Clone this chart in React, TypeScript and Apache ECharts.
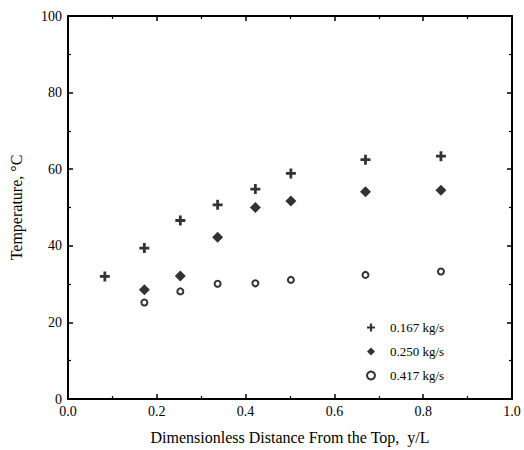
import React, { useEffect, useRef } from "react";
import * as echarts from "echarts";

const xPos = [0.083, 0.172, 0.253, 0.337, 0.422, 0.502, 0.67, 0.84];
const seriesNames = ["0.167 kg/s", "0.250 kg/s", "0.417 kg/s"];
const temp167 = [32.0, 39.4, 46.6, 50.7, 54.8, 58.9, 62.5, 63.4];
const temp250 = [null, 28.5, 32.1, 42.2, 50.0, 51.7, 54.1, 54.5];
const temp417 = [null, 25.2, 28.1, 30.1, 30.2, 31.1, 32.4, 33.3];
const xTicks = [0, 0.2, 0.4, 0.6, 0.8, 1.0];
const yTicks = [0, 20, 40, 60, 80, 100];

const FONT = "Liberation Serif";
const PLUS = "path://M3.6,0h2.8v3.6h3.6v2.8h-3.6v3.6h-2.8v-3.6h-3.6v-2.8h3.6z";

function pairs(vals: (number | null)[]) {
  const out: number[][] = [];
  vals.forEach((v, i) => {
    if (v !== null) out.push([xPos[i], v]);
  });
  return out;
}

export default function App() {
  const ref = useRef<HTMLDivElement>(null);
  useEffect(() => {
    if (!ref.current) return;
    const chart = echarts.init(ref.current, null, { renderer: "svg" });
    const axisCommon = {
      axisLine: { show: true, onZero: false, lineStyle: { color: "#000", width: 2 } },
      axisTick: { show: true, inside: true, length: 5, lineStyle: { color: "#000", width: 1.5 } },
      minorTick: { show: true, splitNumber: 2, length: 3, lineStyle: { color: "#000", width: 1.2 } },
      splitLine: { show: false },
    };
    chart.setOption({
      animation: false,
      backgroundColor: "#fff",
      grid: { left: 68, right: 12, top: 16, bottom: 47, containLabel: false },
      legend: {
        orient: "vertical",
        left: 361,
        top: 316,
        itemWidth: 8,
        itemHeight: 8,
        itemGap: 11,
        data: seriesNames,
        textStyle: { fontFamily: FONT, fontSize: 13, color: "#000", padding: [0, 0, 0, 10] },
      },
      xAxis: [
        {
          type: "value",
          min: 0,
          max: 1,
          interval: 0.2,
          position: "bottom",
          ...axisCommon,
          axisLabel: {
            fontFamily: FONT,
            fontSize: 14,
            color: "#000",
            margin: 5,
            formatter: (v: number) => (xTicks.some((t) => Math.abs(t - v) < 1e-9) ? v.toFixed(1) : ""),
          },
          name: "Dimensionless Distance From the Top,  y/L",
          nameLocation: "middle",
          nameGap: 30,
          nameTextStyle: { fontFamily: FONT, fontSize: 16, color: "#000" },
        },
        {
          type: "value",
          min: 0,
          max: 1,
          interval: 0.2,
          position: "top",
          ...axisCommon,
          axisLabel: { show: false },
        },
      ],
      yAxis: [
        {
          type: "value",
          min: 0,
          max: 100,
          interval: 20,
          position: "left",
          ...axisCommon,
          axisLabel: {
            fontFamily: FONT,
            fontSize: 14,
            color: "#000",
            margin: 6,
            formatter: (v: number) => (yTicks.includes(v) ? String(v) : ""),
          },
          name: "Temperature, °C",
          nameLocation: "middle",
          nameGap: 44,
          nameRotate: 90,
          nameTextStyle: { fontFamily: FONT, fontSize: 16, color: "#000" },
        },
        {
          type: "value",
          min: 0,
          max: 100,
          interval: 20,
          position: "right",
          ...axisCommon,
          axisLabel: { show: false },
        },
      ],
      series: [
        {
          name: seriesNames[0],
          type: "scatter",
          symbol: PLUS,
          symbolSize: 10,
          itemStyle: { color: "#000" },
          data: pairs(temp167),
        },
        {
          name: seriesNames[1],
          type: "scatter",
          symbol: "diamond",
          symbolSize: 11,
          itemStyle: { color: "#000" },
          data: pairs(temp250),
        },
        {
          name: seriesNames[2],
          type: "scatter",
          symbol: "circle",
          symbolSize: 6,
          itemStyle: { color: "#fff", borderColor: "#000", borderWidth: 2 },
          data: pairs(temp417),
        },
      ],
    });
    return () => chart.dispose();
  }, []);
  return <div ref={ref} style={{ width: 524, height: 450, position: "absolute", left: 0, top: 0 }} />;
}
